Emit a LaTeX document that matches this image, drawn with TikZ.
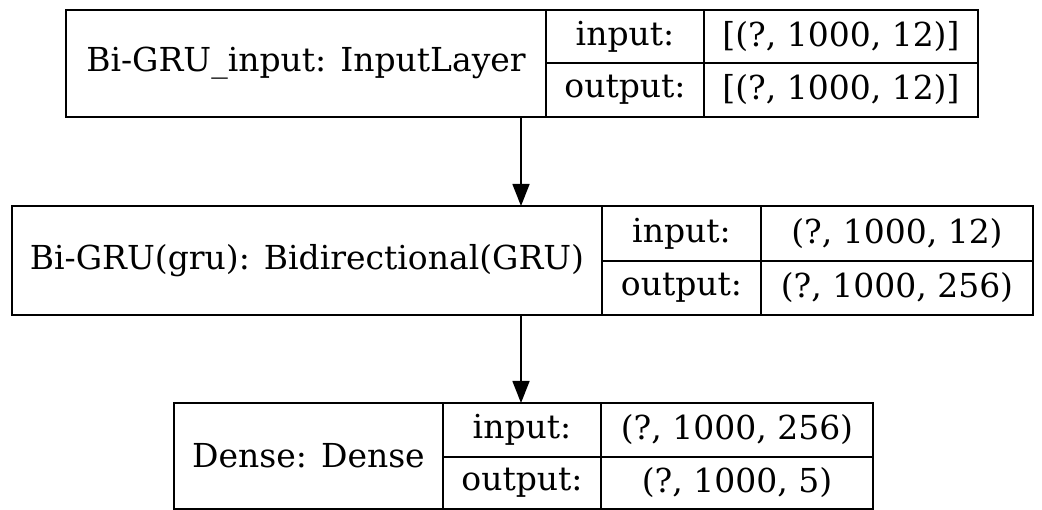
\documentclass[tikz,border=0pt]{standalone}
\usepackage{fontspec}
\setmainfont{DejaVu Serif}
\usetikzlibrary{arrows.meta}
\begin{document}
\begin{tikzpicture}[x=1pt,y=-1pt,
  cell/.style={draw, line width=1.5pt, inner sep=0pt, anchor=center, font=\fontsize{33}{38}\selectfont},
  conn/.style={line width=1.5pt, -{Triangle[length=22pt,width=17pt]}}]
\useasboundingbox (0,0) rectangle (1042,510);
% box 1
\node[cell, minimum width=480pt, minimum height=107pt] (n1) at (306,63.5) {Bi-GRU\_input: InputLayer};
\node[cell, minimum width=158pt, minimum height=53pt] (i1) at (625,36.5) {input:};
\node[cell, minimum width=274pt, minimum height=53pt] (iv1) at (841,36.5) {[(?, 1000, 12)]};
\node[cell, minimum width=158pt, minimum height=54pt] (o1) at (625,90) {output:};
\node[cell, minimum width=274pt, minimum height=54pt] (ov1) at (841,90) {[(?, 1000, 12)]};
% box 2
\node[cell, minimum width=590pt, minimum height=109pt] (n2) at (307,260.5) {Bi-GRU(gru): Bidirectional(GRU)};
\node[cell, minimum width=159pt, minimum height=55pt] (i2) at (681.5,233.5) {input:};
\node[cell, minimum width=272pt, minimum height=55pt] (iv2) at (897,233.5) {(?, 1000, 12)};
\node[cell, minimum width=159pt, minimum height=54pt] (o2) at (681.5,288) {output:};
\node[cell, minimum width=272pt, minimum height=54pt] (ov2) at (897,288) {(?, 1000, 256)};
% box 3
\node[cell, minimum width=269pt, minimum height=106pt] (n3) at (308.5,456) {Dense: Dense};
\node[cell, minimum width=158pt, minimum height=54pt] (i3) at (522,430) {input:};
\node[cell, minimum width=272pt, minimum height=54pt] (iv3) at (737,430) {(?, 1000, 256)};
\node[cell, minimum width=158pt, minimum height=52pt] (o3) at (522,483) {output:};
\node[cell, minimum width=272pt, minimum height=52pt] (ov3) at (737,483) {(?, 1000, 5)};
% connectors
\coordinate (a1) at (521,117);
\coordinate (b1) at (521,206);
\coordinate (a2) at (521,315);
\coordinate (b2) at (521,403);
\draw[conn] (a1) -- (b1);
\draw[conn] (a2) -- (b2);
\end{tikzpicture}
\end{document}
